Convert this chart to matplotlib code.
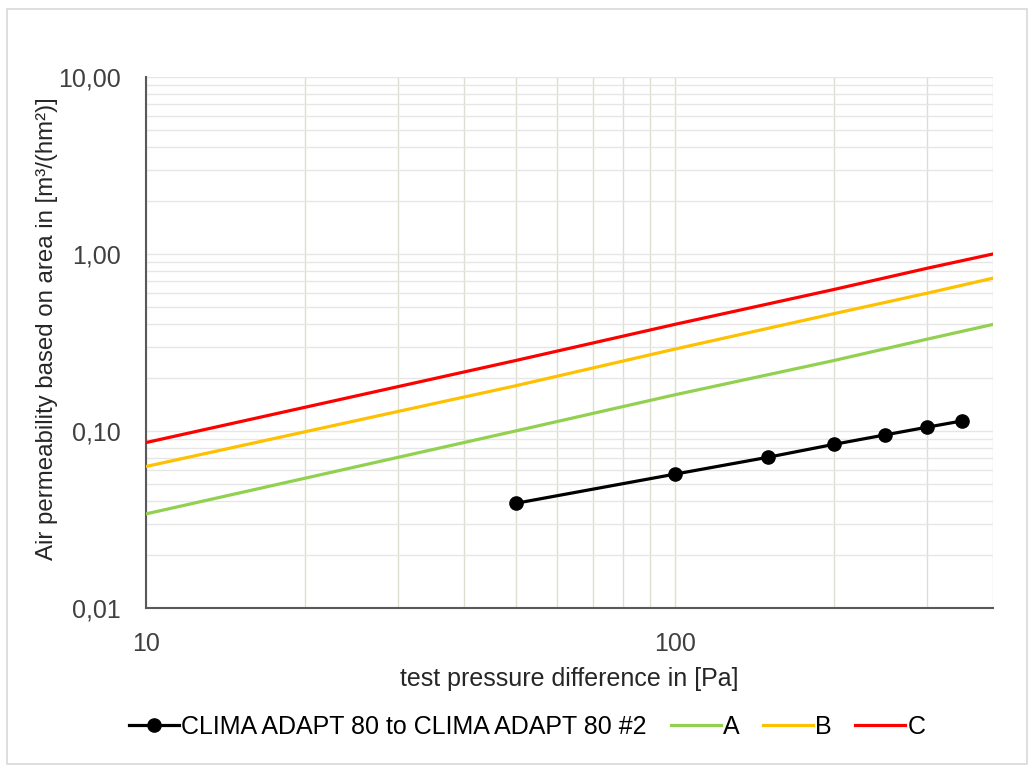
import matplotlib
matplotlib.use("Agg")
import matplotlib.pyplot as plt
from matplotlib.patches import Rectangle
from matplotlib.ticker import FixedLocator, FuncFormatter, NullFormatter

plt.rcParams['font.family'] = ['Liberation Sans', 'DejaVu Sans']

# measured series
p_meas = [50, 100, 150, 200, 250, 300, 350]
q_meas = [0.039, 0.057, 0.071, 0.084, 0.095, 0.105, 0.114]

# class limits
p_cls = [10, 50, 100, 200, 300, 400]
q_a = [0.034, 0.10, 0.16, 0.25, 0.33, 0.40]
q_b = [0.063, 0.18, 0.29, 0.46, 0.60, 0.73]
q_c = [0.086, 0.25, 0.40, 0.63, 0.83, 1.00]

fig = plt.figure(figsize=(10.34, 7.73), dpi=100)
ax = fig.add_axes([0.1412, 0.2135, 0.8191, 0.6869])

ax.plot(p_meas, q_meas, color='black', lw=2.3, marker='o', ms=9.5,
        label='CLIMA ADAPT 80 to CLIMA ADAPT 80 #2', zorder=5)
ax.plot(p_cls, q_a, color='#92D050', lw=2.3, label='A', zorder=4)
ax.plot(p_cls, q_b, color='#FFC000', lw=2.3, label='B', zorder=4)
ax.plot(p_cls, q_c, color='#FF0000', lw=2.3, label='C', zorder=4)

ax.set_xscale('log')
ax.set_yscale('log')
ax.set_xlim(10, 400)
ax.set_ylim(0.01, 10)

ax.xaxis.set_major_locator(FixedLocator([10, 100]))
ax.xaxis.set_major_formatter(FuncFormatter(lambda v, _: f"{v:.0f}"))
ax.xaxis.set_minor_formatter(NullFormatter())
ax.yaxis.set_major_locator(FixedLocator([0.01, 0.1, 1, 10]))
ax.yaxis.set_major_formatter(FuncFormatter(lambda v, _: f"{v:.2f}".replace('.', ',')))
ax.yaxis.set_minor_formatter(NullFormatter())

ax.grid(True, axis='y', which='both', color='#e6e6e6', lw=1.0)
ax.grid(True, axis='x', which='both', color='#deded0', lw=1.0)
ax.set_axisbelow(True)

ax.tick_params(which='both', length=0, labelsize=18, colors='#404040')
ax.tick_params(axis='x', pad=17)
ax.tick_params(axis='y', pad=18)
for s in ['top', 'right']:
    ax.spines[s].set_visible(False)
for s in ['left', 'bottom']:
    ax.spines[s].set_color('#595959')
    ax.spines[s].set_linewidth(1.5)

ax.set_xlabel('test pressure difference in [Pa]', fontsize=18, color='#262626', labelpad=8)
ax.set_ylabel('Air permeability based on area in [m³/(hm²)]', fontsize=17.3, color='#262626')
ax.yaxis.set_label_coords(-0.104, 0.527)

fig.legend(loc='center', bbox_to_anchor=(0.51, 0.06), ncol=4, frameon=False,
           fontsize=18, handlelength=2.0, handletextpad=0.08, columnspacing=0.95)

fig.patches.append(Rectangle((0.007, 0.012), 0.986, 0.976, transform=fig.transFigure,
                             fill=False, edgecolor='#d9d9d9', lw=1.2))

fig.savefig('out.png', dpi=100, facecolor='white')
